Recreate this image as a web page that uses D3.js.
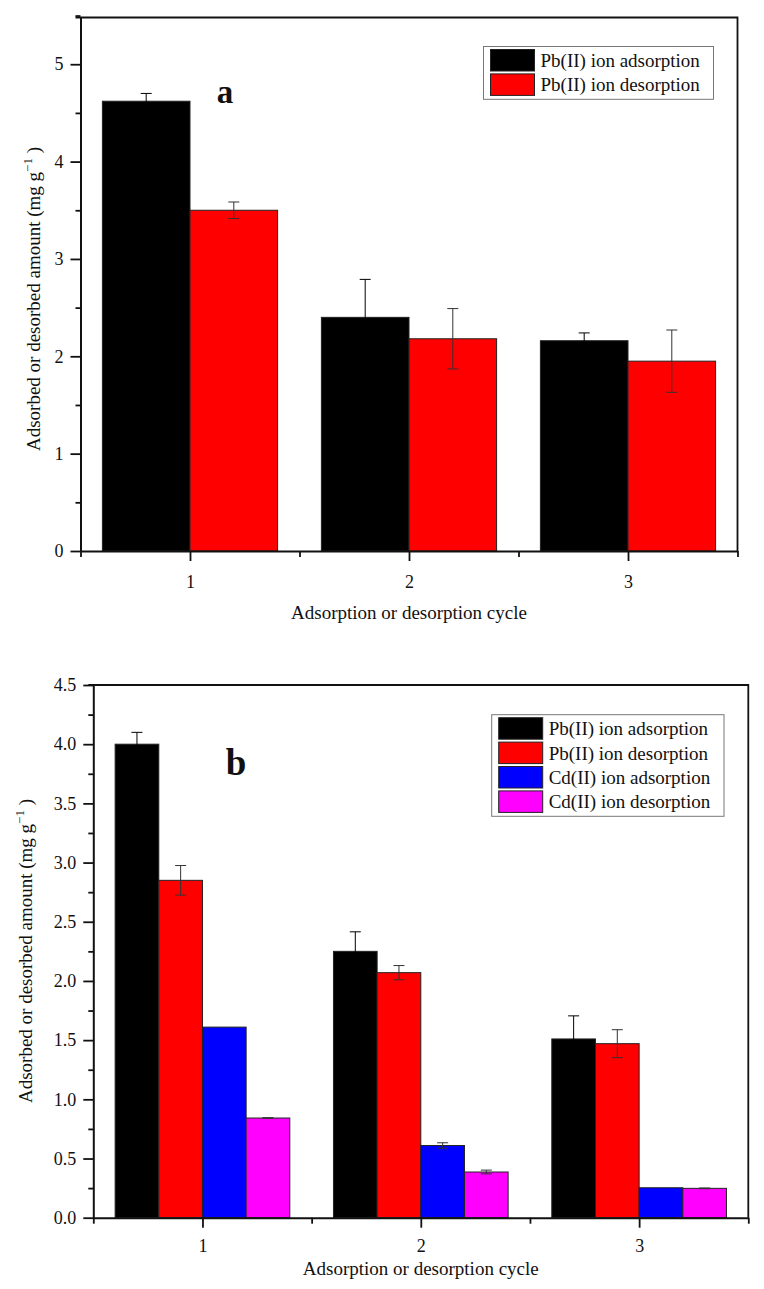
<!DOCTYPE html>
<html>
<head>
<meta charset="utf-8">
<script src="https://cdn.jsdelivr.net/npm/d3@7"></script>
<style>
body { margin: 0; background: #fff; }
text { font-family: "Liberation Serif", "Times New Roman", serif; fill: #111; }
</style>
</head>
<body>
<div id="chart"></div>
<script>
var cycles = [1, 2, 3];
var colors = ["#000000", "#ff0000", "#0000ff", "#ff00ff"];
var errColors = ["#000000", "#333333", "#333333", "#333333"];

// panel a
var namesA = ["Pb(II) ion adsorption", "Pb(II) ion desorption"];
var pbAdsA = [4.62, 2.40, 2.16];
var pbAdsErrA = [0.08, 0.39, 0.08];
var pbDesA = [3.50, 2.18, 1.95];
var pbDesErrA = [0.085, 0.31, 0.32];
var yTicksA = [0, 1, 2, 3, 4, 5];
var yMinorA = [0.5, 1.5, 2.5, 3.5, 4.5, 5.5];

// panel b
var namesB = ["Pb(II) ion adsorption", "Pb(II) ion desorption", "Cd(II) ion adsorption", "Cd(II) ion desorption"];
var pbAdsB = [4.00, 2.25, 1.51];
var pbAdsErrB = [0.10, 0.165, 0.195];
var pbDesB = [2.85, 2.07, 1.47];
var pbDesErrB = [0.125, 0.06, 0.118];
var cdAdsB = [1.61, 0.61, 0.253];
var cdAdsErrB = [0.0, 0.023, 0.0];
var cdDesB = [0.842, 0.386, 0.248];
var cdDesErrB = [0.003, 0.016, 0.003];
var yTicksB = [0, 0.5, 1.0, 1.5, 2.0, 2.5, 3.0, 3.5, 4.0, 4.5];
var yMinorB = [0.25, 0.75, 1.25, 1.75, 2.25, 2.75, 3.25, 3.75, 4.25];

var xTicks = [1, 2, 3];
var xMinor = [0.5, 1.5, 2.5, 3.5];

var svg = d3.select("#chart").append("svg")
	.attr("width", 764).attr("height", 1289);

function drawPanel(o) {
	var g = svg.append("g");
	var x = d3.scaleLinear().domain([0.5, 3.5]).range([o.left, o.right]);
	var y = d3.scaleLinear().domain([0, o.yMax]).range([o.bottom, o.top]);
	var n = o.series.length;
	var bw = 0.8 / n;

	// bars
	o.series.forEach(function (vals, si) {
		g.selectAll(null).data(cycles).enter().append("rect")
			.attr("x", function (c) { return x(c - 0.4 + si * bw); })
			.attr("width", x(bw) - x(0))
			.attr("y", function (c, i) { return y(vals[i]); })
			.attr("height", function (c, i) { return y(0) - y(vals[i]); })
			.attr("fill", colors[si])
			.attr("stroke", "#222")
			.attr("stroke-width", 1);
	});

	// error bars
	o.series.forEach(function (vals, si) {
		var errs = o.errors[si];
		cycles.forEach(function (c, i) {
			if (errs[i] <= 0) return;
			var cx = x(c - 0.4 + (si + 0.5) * bw);
			var y1 = y(vals[i] + errs[i]), y2 = y(vals[i] - errs[i]);
			var eg = g.append("g").attr("stroke", errColors[si]).attr("stroke-width", 1);
			eg.append("line").attr("x1", cx).attr("x2", cx).attr("y1", y1).attr("y2", y2);
			eg.append("line").attr("x1", cx - 5.5).attr("x2", cx + 5.5).attr("y1", y1).attr("y2", y1);
			eg.append("line").attr("x1", cx - 5.5).attr("x2", cx + 5.5).attr("y1", y2).attr("y2", y2);
		});
	});

	// frame
	g.append("path")
		.attr("d", "M" + (o.left - 5) + "," + o.top + "H" + o.right + "V" + o.bottom)
		.attr("fill", "none").attr("stroke", "#111").attr("stroke-width", 1.8);

	// axes
	g.append("g").attr("transform", "translate(" + o.left + ",0)")
		.call(d3.axisLeft(y).tickValues(o.yTicks).tickFormat(o.yFormat).tickSize(10).tickSizeOuter(0).tickPadding(7));
	g.append("g").attr("transform", "translate(" + o.left + ",0)")
		.call(d3.axisLeft(y).tickValues(o.yMinor).tickFormat("").tickSize(5).tickSizeOuter(0))
		.select(".domain").remove();
	g.append("g").attr("transform", "translate(0," + o.bottom + ")")
		.call(d3.axisBottom(x).tickValues(xTicks).tickFormat(d3.format("d")).tickSize(10).tickSizeOuter(0).tickPadding(o.xPad));
	g.append("g").attr("transform", "translate(0," + o.bottom + ")")
		.call(d3.axisBottom(x).tickValues(xMinor).tickFormat("").tickSize(6).tickSizeOuter(0))
		.select(".domain").remove();

	g.selectAll(".domain").attr("stroke", "#111").attr("stroke-width", 2);
	g.selectAll(".tick line").attr("stroke", "#111").attr("stroke-width", 1.8);
	g.selectAll(".tick text").attr("font-size", 18).attr("fill", "#111")
		.attr("font-family", "'Liberation Serif', serif");

	// axis titles
	g.append("text")
		.attr("x", (o.left + o.right) / 2).attr("y", o.xTitleY)
		.attr("text-anchor", "middle").attr("font-size", 19)
		.text("Adsorption or desorption cycle");

	var yt = g.append("text")
		.attr("transform", "translate(" + o.yTitleX + "," + o.yTitleY + ") rotate(-90)")
		.attr("text-anchor", "middle").attr("font-size", 19);
	yt.append("tspan").text("Adsorbed or desorbed amount (mg g");
	yt.append("tspan").attr("font-size", 13).attr("dy", -8).text("\u22121");
	yt.append("tspan").attr("dy", 8).text(" )");

	// panel letter
	g.append("text")
		.attr("x", o.letterX).attr("y", o.letterY)
		.attr("text-anchor", "middle").attr("font-size", o.letterSize).attr("font-weight", "bold")
		.text(o.letter);

	// legend
	var lg = g.append("g").attr("transform", "translate(" + o.legX + "," + o.legY + ")");
	var rowH = 24.4;
	lg.append("rect")
		.attr("width", o.legW).attr("height", o.names.length * rowH + 4)
		.attr("fill", "#fff").attr("stroke", "#777").attr("stroke-width", 1);
	o.names.forEach(function (name, i) {
		lg.append("rect")
			.attr("x", 7).attr("y", 3 + i * rowH)
			.attr("width", 44).attr("height", 21.5)
			.attr("fill", colors[i]).attr("stroke", "#222").attr("stroke-width", 1);
		lg.append("text")
			.attr("x", 57).attr("y", 3 + i * rowH + 17.5)
			.attr("font-size", 19)
			.text(name);
	});
}

drawPanel({
	left: 80.5, right: 737.5, top: 17.5, bottom: 551,
	yMax: 5.48, yTicks: yTicksA, yMinor: yMinorA, yFormat: d3.format("d"),
	series: [pbAdsA, pbDesA], errors: [pbAdsErrA, pbDesErrA], names: namesA,
	xPad: 14, xTitleY: 619, yTitleX: 40, yTitleY: 299,
	letter: "a", letterX: 225, letterY: 103, letterSize: 33,
	legX: 483.5, legY: 46.5, legW: 230
});

drawPanel({
	left: 93.3, right: 748.3, top: 685, bottom: 1217.7,
	yMax: 4.5, yTicks: yTicksB, yMinor: yMinorB, yFormat: d3.format(".1f"),
	series: [pbAdsB, pbDesB, cdAdsB, cdDesB],
	errors: [pbAdsErrB, pbDesErrB, cdAdsErrB, cdDesErrB], names: namesB,
	xPad: 12, xTitleY: 1275, yTitleX: 31.5, yTitleY: 951,
	letter: "b", letterX: 236, letterY: 775, letterSize: 37,
	legX: 491.7, legY: 714.7, legW: 232.3
});
</script>
</body>
</html>
